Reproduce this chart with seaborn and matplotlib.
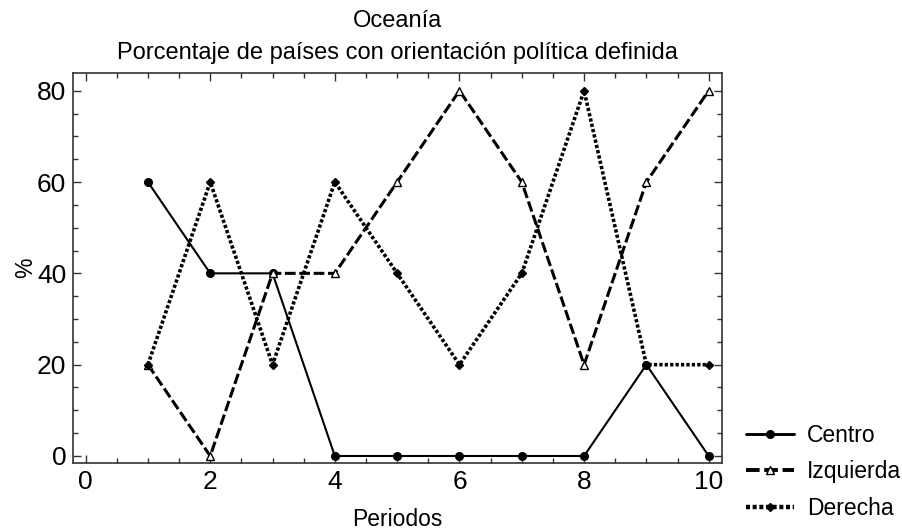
import numpy as np
import pandas as pd
import matplotlib
matplotlib.use("Agg")
import matplotlib.pyplot as plt
from matplotlib.ticker import MultipleLocator
import seaborn as sns

periodos = [1, 2, 3, 4, 5, 6, 7, 8, 9, 10]
centro = [60, 40, 40, 0, 0, 0, 0, 0, 20, 0]
izquierda = [20, 0, 40, 40, 60, 80, 60, 20, 60, 80]
derecha = [20, 60, 20, 60, 40, 20, 40, 80, 20, 20]
series = ["Centro", "Izquierda", "Derecha"]

df = pd.DataFrame({
    "Periodos": periodos * 3,
    "valor": centro + izquierda + derecha,
    "serie": ["Centro"] * 10 + ["Izquierda"] * 10 + ["Derecha"] * 10,
})

sns.set_style("ticks", {"text.color": "black", "xtick.color": "black",
                        "ytick.color": "black", "axes.labelcolor": "black"})
plt.rcParams["font.family"] = ["Liberation Sans", "DejaVu Sans"]

fig = plt.figure(figsize=(9.03, 5.32), dpi=100)
ax = fig.add_axes([0.081, 0.130, 0.719, 0.733])

estilos = {
    "Centro": dict(ls="-", lw=1.5, marker="o", ms=5.5, mfc="black"),
    "Izquierda": dict(ls=(0, (3.5, 1.2)), lw=2.2, marker="^", ms=6, mfc="white"),
    "Derecha": dict(ls=(0, (0.9, 0.6)), lw=2.6, marker="D", ms=4.5, mfc="black"),
}

for s in series:
    st = estilos[s]
    sns.lineplot(data=df[df["serie"] == s], x="Periodos", y="valor", ax=ax,
                 color="black", linestyle=st["ls"], linewidth=st["lw"],
                 marker=st["marker"], markersize=st["ms"], markerfacecolor=st["mfc"],
                 markeredgecolor="black", markeredgewidth=1.0, label=s)

ax.set_xlim(-0.2, 10.22)
ax.set_ylim(-1.5, 83.9)
ax.xaxis.set_major_locator(MultipleLocator(2))
ax.xaxis.set_minor_locator(MultipleLocator(0.5))
ax.yaxis.set_major_locator(MultipleLocator(20))
ax.yaxis.set_minor_locator(MultipleLocator(5))
ax.tick_params(which="both", direction="in", top=True, right=True, labelsize=19,
               color="#333333", labelcolor="black")
ax.tick_params(which="major", length=6, width=1, pad=5)
ax.tick_params(which="minor", length=3.5, width=1)
for sp in ax.spines.values():
    sp.set_linewidth(1.2)
    sp.set_color("#333333")

ax.set_xlabel("Periodos", fontsize=16.5, labelpad=10, color="black")
ax.set_ylabel("%", fontsize=16.5, labelpad=0, color="black")
ax.set_title("Oceanía\nPorcentaje de países con orientación política definida",
             fontsize=17, linespacing=1.6, pad=10, color="black")

leg = ax.legend(loc="lower left", bbox_to_anchor=(1.005, -0.2), frameon=False,
                fontsize=16.5, handlelength=2.1, labelspacing=0.6, handletextpad=0.55,
                labelcolor="black")
for h in leg.get_lines():
    h.set_linewidth(h.get_linewidth() + 0.6)

plt.savefig("out.png", dpi=100)
